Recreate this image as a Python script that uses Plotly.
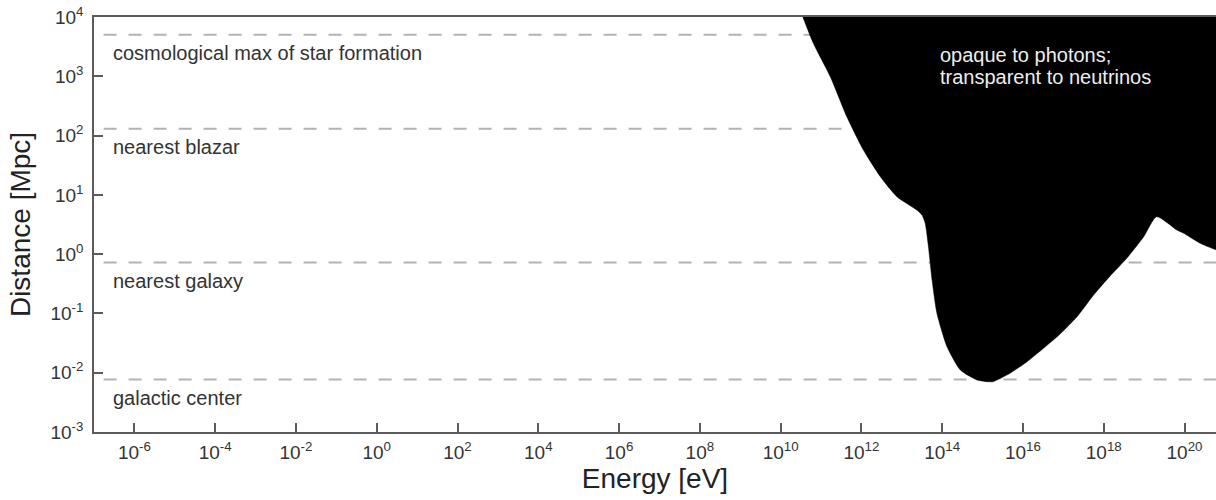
import math
import plotly.graph_objects as go

# ---------------- data ----------------
# x axis: photon energy [eV] (tick exponents, log10)
x_tick_exponents = [-6, -4, -2, 0, 2, 4, 6, 8, 10, 12, 14, 16, 18, 20]
# y axis: distance [Mpc] (tick exponents, log10)
y_tick_exponents = [-3, -2, -1, 0, 1, 2, 3, 4]

# reference distances [Mpc]
ref_names = ["cosmological max of star formation", "nearest blazar",
             "nearest galaxy", "galactic center"]
ref_distances = [5000, 130, 0.72, 0.0077]

# boundary of the region opaque to photons (log10 energy [eV], log10 distance [Mpc])
boundary_log_energy = [10.26, 10.55, 10.81, 11.23, 11.64, 12.05, 12.47, 12.88, 13.37,
                       13.50, 13.58, 13.66, 13.75, 13.87, 14.12, 14.45, 14.86, 15.11,
                       15.26, 15.68, 16.10, 16.51, 16.92, 17.34, 17.75, 18.16, 18.57,
                       18.99, 19.31, 19.81, 19.98, 20.39, 20.79, 21.0, 21.0]
boundary_log_distance = [4.5, 4.00, 3.556, 2.993, 2.318, 1.757, 1.306, 0.969, 0.745,
                         0.660, 0.520, 0.126, -0.436, -0.997, -1.561, -1.954, -2.122, -2.151,
                         -2.151, -2.009, -1.814, -1.588, -1.347, -1.055, -0.689, -0.368, -0.070,
                         0.294, 0.632, 0.408, 0.352, 0.183, 0.070, 0.02, 4.5]

region_text = ["opaque to photons;", "transparent to neutrinos"]

x_range_log = [-7, 20.78]
y_range_log = [-3, 4]

# ---------------- figure ----------------
FONT = "Liberation Sans, Arial, Helvetica, sans-serif"
AXIS_COLOR = "#5c5c5c"
TEXT_COLOR = "#333333"

fig = go.Figure()

# dashed reference lines
for d in ref_distances:
    fig.add_trace(go.Scatter(
        x=[10.0 ** (x_range_log[0] - 1), 10.0 ** (x_range_log[1] + 1)], y=[d, d],
        mode="lines", line=dict(color="#b3b3b3", width=2, dash="13px,12px"),
        hoverinfo="skip", showlegend=False))

# opaque region
fig.add_trace(go.Scatter(
    x=[10.0 ** e for e in boundary_log_energy],
    y=[10.0 ** d for d in boundary_log_distance],
    mode="lines", fill="toself", fillcolor="black",
    line=dict(color="black", width=0.5, shape="spline", smoothing=0.6),
    hoverinfo="skip", showlegend=False))

# labels under dashed lines
for name, d in zip(ref_names, ref_distances):
    fig.add_annotation(
        x=0.0152, xref="paper", y=math.log10(d), yref="y",
        text=name, showarrow=False, xanchor="left", yanchor="middle", yshift=-18.5,
        font=dict(family=FONT, size=20, color=TEXT_COLOR))

# text in the opaque region
for i, t in enumerate(region_text):
    fig.add_annotation(
        x=13.9, xref="x", y=3.351, yref="y", yshift=-21.5 * i,
        text=t, showarrow=False, xanchor="left", yanchor="middle", align="left",
        font=dict(family=FONT, size=20, color="#eeeeee"))

fig.update_layout(
    width=1216, height=500,
    margin=dict(l=94, r=0, t=17, b=68),
    paper_bgcolor="white", plot_bgcolor="white",
    font=dict(family=FONT, color=TEXT_COLOR),
    xaxis=dict(
        type="log", range=x_range_log,
        tickvals=[10.0 ** e for e in x_tick_exponents],
        ticktext=[f"10<sup>{e}</sup>" for e in x_tick_exponents],
        ticks="inside", ticklen=9, tickwidth=1.5, tickcolor=AXIS_COLOR,
        showline=True, linecolor=AXIS_COLOR, linewidth=1.5, mirror=True,
        showgrid=False, zeroline=False, ticklabelstandoff=2,
        tickfont=dict(family=FONT, size=19, color=TEXT_COLOR),
        title=dict(text="Energy [eV]", font=dict(family=FONT, size=28, color="#222222"),
                   standoff=2),
    ),
    yaxis=dict(
        type="log", range=y_range_log,
        tickvals=[10.0 ** e for e in y_tick_exponents],
        ticktext=[f"10<sup>{e}</sup>" for e in y_tick_exponents],
        ticks="inside", ticklen=9, tickwidth=1.5, tickcolor=AXIS_COLOR,
        showline=True, linecolor=AXIS_COLOR, linewidth=1.5,
        showgrid=False, zeroline=False, ticklabelstandoff=5,
        tickfont=dict(family=FONT, size=19, color=TEXT_COLOR),
        title=dict(text="Distance [Mpc]", font=dict(family=FONT, size=28, color="#222222"),
                   standoff=12),
    ),
)

fig.write_html("out.html", config={"displayModeBar": False},
               post_script="document.body.style.margin='0px';")
